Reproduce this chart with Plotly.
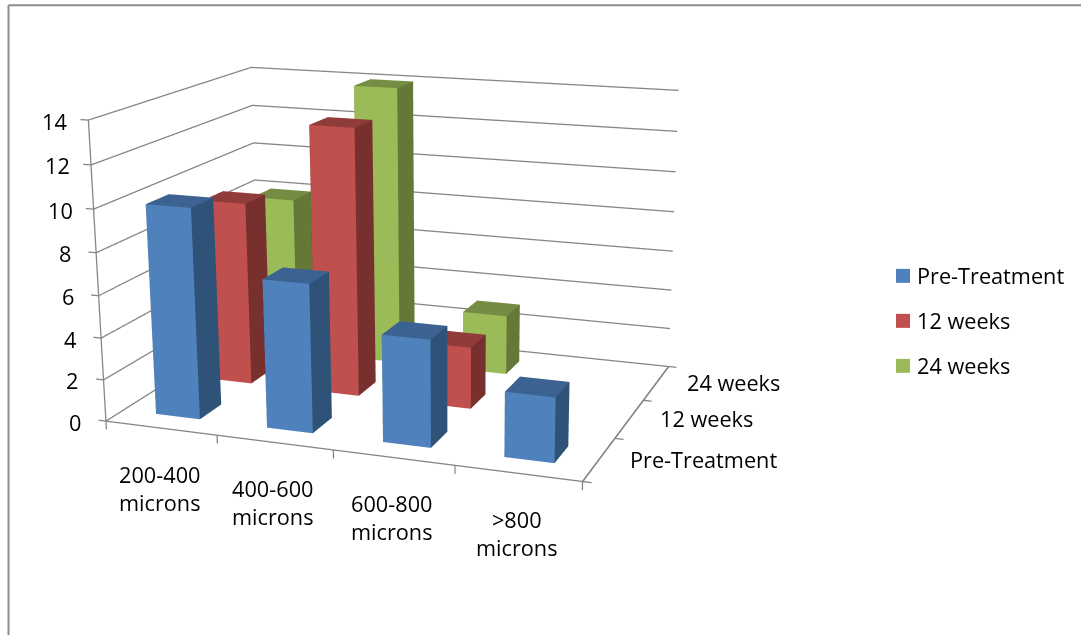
import plotly.graph_objects as go

# Chart data
categories = ["200-400<br>microns", "400-600<br>microns", "600-800<br>microns", ">800<br>microns"]
series_names = ["Pre-Treatment", "12 weeks", "24 weeks"]
pre_treatment = [10, 7, 5, 3]
weeks_12 = [9, 13, 3, 0]
weeks_24 = [8, 14, 3, 0]
z_ticks = [0, 2, 4, 6, 8, 10, 12, 14]

# Front, side and top shades of each series
front_colors = ["#4F81BD", "#C0504D", "#9BBB59"]
side_colors = ["#2F5378", "#78302E", "#657837"]
top_colors = ["#3B6290", "#903C3A", "#748C43"]

BAR = 0.4
FONT = "Open Sans"
FS = 21.7
INK = "#000000"
GRAY = "#868686"

# Plot box in data units
X0, X1 = -0.5, 3.5
Y0, Y1 = -0.5, 2.5
Z0, Z1 = 0, 14
# Room kept around the box so tick marks and edge lines stay inside the scene
X_PAD, Y_PAD, Z_PAD = 0.07, 0.05, 0.4

# Page geometry: a tall scene gives the long lens of the view; it sits shifted up the page
PAGE_W = 1081
SCENE_H = 1471
PAGE_TOP = -422.86

# Camera for the plot box, then re-based onto the padded scene ranges
box_aspect = (1.3060, 0.9502, 0.8058)
box_eye = (1.6759, -4.3612, 1.1946)
box_center = (0.3314, -0.5044, 0.0)
ranges = ((X0, X1), (Y0, Y1), (Z0, Z1))
padded = ((X0 - X_PAD, X1 + X_PAD), (Y0 - Y_PAD, Y1 + Y_PAD), (Z0 - Z_PAD, Z1 + Z_PAD))
unit = [a / (r[1] - r[0]) for a, r in zip(box_aspect, ranges)]
shift = [u * ((r[0] + r[1]) / 2 - (p[0] + p[1]) / 2) for u, r, p in zip(unit, ranges, padded)]
aspect = [u * (p[1] - p[0]) for u, p in zip(unit, padded)]
norm = (aspect[0] * aspect[1] * aspect[2]) ** (-1 / 3)
aspect = [a * norm for a in aspect]
eye = [(e + s) * norm for e, s in zip(box_eye, shift)]
center = [(c + s) * norm for c, s in zip(box_center, shift)]


def page_y(v):
    return 1 - (v - PAGE_TOP) / SCENE_H


def page_x(v):
    return v / PAGE_W


def box(xc, yc, h):
    """Vertices and faces of a bar standing on the floor."""
    d = BAR / 2
    xs = [xc - d, xc + d, xc + d, xc - d] * 2
    ys = [yc - d, yc - d, yc + d, yc + d] * 2
    zs = [0] * 4 + [h] * 4
    faces = [
        ((0, 1, 5), "front"), ((0, 5, 4), "front"),
        ((1, 2, 6), "side"), ((1, 6, 5), "side"),
        ((4, 5, 6), "top"), ((4, 6, 7), "top"),
        ((3, 2, 6), "side"), ((3, 6, 7), "side"),
        ((0, 3, 7), "side"), ((0, 7, 4), "side"),
    ]
    return xs, ys, zs, faces


def add_path(fig, xs, ys, zs, width=2.6):
    fig.add_trace(go.Scatter3d(
        x=xs, y=ys, z=zs, mode="lines", line=dict(color=GRAY, width=width),
        hoverinfo="skip", showlegend=False,
    ))


fig = go.Figure()

# Gridlines along the left and back walls
for t in z_ticks:
    add_path(fig, [X0, X0, X1], [Y0, Y1, Y1], [t, t, t])

# Axis lines and their tick marks
add_path(fig, [X0, X0], [Y0, Y0], [Z0, Z1])
add_path(fig, [X0, X1], [Y0, Y0], [Z0, Z0])
add_path(fig, [X1, X1], [Y0, Y1], [Z0, Z0], width=3.4)
for t in z_ticks:
    add_path(fig, [X0 - X_PAD, X0], [Y0, Y0], [t, t])
for c in range(len(categories) + 1):
    add_path(fig, [X0 + c, X0 + c], [Y0, Y0], [Z0 - Z_PAD, Z0])
for s in range(len(series_names) + 1):
    add_path(fig, [X1, X1 + X_PAD], [Y0 + s, Y0 + s], [Z0, Z0])

# Bars
for s, values in enumerate([pre_treatment, weeks_12, weeks_24]):
    palette = {"front": front_colors[s], "side": side_colors[s], "top": top_colors[s]}
    for c, value in enumerate(values):
        if value == 0:
            continue
        xs, ys, zs, faces = box(c, s, value)
        fig.add_trace(go.Mesh3d(
            x=xs, y=ys, z=zs,
            i=[f[0][0] for f in faces], j=[f[0][1] for f in faces], k=[f[0][2] for f in faces],
            facecolor=[palette[f[1]] for f in faces],
            flatshading=True,
            lighting=dict(ambient=1, diffuse=0, specular=0, fresnel=0),
            hoverinfo="skip", showlegend=False,
        ))

font = dict(family=FONT, size=FS, color=INK)
scene_annotations = []
for c, label in enumerate(categories):
    scene_annotations.append(dict(
        x=c, y=Y0, z=0, text=label, showarrow=False, xanchor="center", yanchor="middle",
        xshift=-1, yshift=-60, font=font))
for s, label in enumerate(series_names):
    scene_annotations.append(dict(
        x=X1, y=s, z=0, text=label, showarrow=False, xanchor="left", yanchor="middle",
        xshift=29, yshift=0, font=font))
for t in z_ticks:
    scene_annotations.append(dict(
        x=X0, y=Y0, z=t, text=str(t), showarrow=False, xanchor="right", yanchor="middle",
        xshift=-19 if t >= 10 else -23, yshift=-1, font=font))

# Series key on the right
key_rows = [276, 321, 366]
key_shapes = []
key_labels = []
for name, color, row in zip(series_names, front_colors, key_rows):
    key_shapes.append(dict(
        type="rect", xref="paper", yref="paper", x0=page_x(896), x1=page_x(910),
        y0=page_y(row + 7), y1=page_y(row - 7), fillcolor=color, line=dict(width=0)))
    key_labels.append(dict(
        xref="paper", yref="paper", x=page_x(915), y=page_y(row), text=name, showarrow=False,
        xanchor="left", yanchor="middle", font=font))

frame = dict(color="#8C8C8C", width=2)
hidden = dict(visible=False)
fig.update_layout(
    width=PAGE_W, height=SCENE_H, margin=dict(l=0, r=0, t=0, b=0),
    paper_bgcolor="white",
    showlegend=False,
    scene=dict(
        domain=dict(x=[0, 2 * 452.75 / PAGE_W], y=[0, 1]),
        aspectmode="manual", aspectratio=dict(x=aspect[0], y=aspect[1], z=aspect[2]),
        camera=dict(eye=dict(x=eye[0], y=eye[1], z=eye[2]),
                    center=dict(x=center[0], y=center[1], z=center[2]),
                    up=dict(x=0, y=0, z=1)),
        xaxis=dict(range=list(padded[0]), **hidden),
        yaxis=dict(range=list(padded[1]), **hidden),
        zaxis=dict(range=list(padded[2]), **hidden),
        annotations=scene_annotations,
    ),
    annotations=key_labels,
    shapes=key_shapes + [
        dict(type="line", xref="paper", yref="paper", x0=page_x(8.5), x1=page_x(8.5),
             y0=page_y(5.5), y1=page_y(640), line=frame),
        dict(type="line", xref="paper", yref="paper", x0=page_x(8.5), x1=1,
             y0=page_y(5.5), y1=page_y(5.5), line=frame),
    ],
)

fig.write_html("out.html", post_script=f"""
var gd=document.getElementById('{{plot_id}}');
gd.style.position='absolute';gd.style.left='0';gd.style.top='{PAGE_TOP}px';
document.documentElement.style.overflow='hidden';document.body.style.overflow='hidden';
""")
